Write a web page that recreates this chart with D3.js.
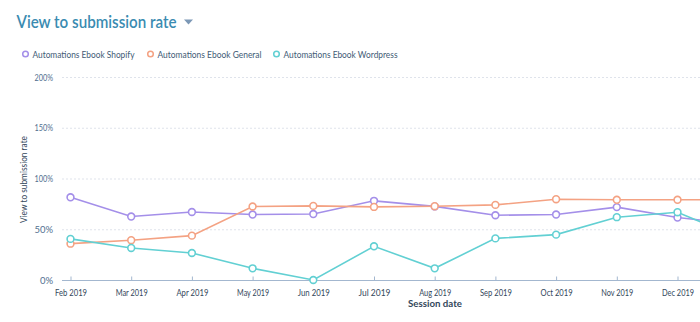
<!DOCTYPE html>
<html>
<head>
<meta charset="utf-8">
<script src="https://cdn.jsdelivr.net/npm/d3@7"></script>
<style>
  html, body { margin: 0; padding: 0; background: #fff; }
  svg { display: block; font-family: Lato, "Open Sans", sans-serif; }
</style>
</head>
<body>
<svg id="chart" width="700" height="322"></svg>
<script>
// Months on the x axis (the last one runs past the right edge)
const months = ["Feb 2019", "Mar 2019", "Apr 2019", "May 2019", "Jun 2019", "Jul 2019",
                "Aug 2019", "Sep 2019", "Oct 2019", "Nov 2019", "Dec 2019", "Jan 2020"];

// View-to-submission rate per month, in percent
const shopify   = [81.5, 62.5, 67, 64.5, 65, 78, 72.5, 63.8, 64.5, 71.8, 61.5, 55];
const general   = [35.8, 39.2, 43.7, 72.4, 73, 72, 72.7, 74, 79.6, 79, 79, 79];
const wordpress = [40.5, 31.6, 26.6, 11.5, 0, 33.2, 11.5, 41, 44.7, 61.9, 66.8, 42];

const seriesNames = ["Automations Ebook Shopify", "Automations Ebook General", "Automations Ebook Wordpress"];
const seriesColors = ["#a48fe9", "#f4a283", "#62d0d3"];
const yTicks = [0, 50, 100, 150, 200];

const svg = d3.select("#chart");
const W = 700;
const plotLeft = 62, plotRight = 700, plotTop = 77, plotBottom = 280;

const x = d3.scalePoint().domain(months).range([70.5, 70.5 + 60.7 * 11]);
const y = d3.scaleLinear().domain([0, 200]).range([plotBottom, plotTop]);

// Squeeze a text horizontally so it spans at most the given width (keeps font height)
function squeeze(sel, width) {
  sel.each(function () {
    const w = this.getComputedTextLength();
    if (w > width) d3.select(this).attr("textLength", width).attr("lengthAdjust", "spacingAndGlyphs");
  });
  return sel;
}

// Title with dropdown caret
const title = svg.append("text")
  .attr("x", 16.5).attr("y", 28)
  .attr("fill", "#3a8bb1")
  .attr("font-size", 16.5)
  .attr("font-weight", 600)
  .text("View to submission rate");
squeeze(title, 160);
svg.append("path")
  .attr("d", "M184,19.5 L193,19.5 L188.5,24.5 Z")
  .attr("fill", "#7c98b6");

// Legend
const legendX = [25.5, 150.5, 276.5];
const legendW = [102, 104, 114];
const legend = svg.append("g");
seriesNames.forEach((name, i) => {
  const g = legend.append("g").attr("transform", `translate(${legendX[i]},54)`);
  g.append("circle").attr("r", 2.8).attr("fill", "#fff")
    .attr("stroke", seriesColors[i]).attr("stroke-width", 1.5);
  const t = g.append("text").attr("x", 7).attr("y", 3.6)
    .attr("font-size", 10.2).attr("fill", "#425b76").text(name);
  squeeze(t, legendW[i]);
});

// Horizontal grid
svg.append("g").selectAll("line")
  .data(yTicks.filter(d => d > 0))
  .join("line")
  .attr("x1", plotLeft).attr("x2", plotRight)
  .attr("y1", d => y(d) + 0.5).attr("y2", d => y(d) + 0.5)
  .attr("stroke", "#dfe3eb").attr("stroke-dasharray", "2,2");

// Y axis labels
const yAxis = svg.append("g")
  .attr("transform", `translate(${plotLeft},0)`)
  .call(d3.axisLeft(y).tickValues(yTicks).tickFormat(d => d + "%").tickSize(0).tickPadding(9));
yAxis.select(".domain").remove();
yAxis.selectAll("text").attr("font-size", 9.5).attr("fill", "#516f90")
  .attr("font-family", "Lato, sans-serif");
squeeze(yAxis.selectAll("text"), 18.5);

const yTitle = svg.append("text")
  .attr("transform", `translate(27,${(plotTop + plotBottom) / 2 + 1}) rotate(-90)`)
  .attr("text-anchor", "middle")
  .attr("font-size", 9.5).attr("fill", "#33475b")
  .text("View to submission rate");
squeeze(yTitle, 87);

// X axis
const visibleMonths = months.filter(m => x(m) < W - 20);
const xAxis = svg.append("g")
  .attr("transform", `translate(0,${plotBottom + 0.5})`)
  .call(d3.axisBottom(x).tickValues(visibleMonths).tickSize(-4).tickPadding(9).tickSizeOuter(0));
xAxis.select(".domain").attr("d", `M${plotLeft},0H${plotRight}`)
  .attr("stroke", "#a3b7cf").attr("stroke-width", 1.2);
xAxis.selectAll(".tick line").attr("stroke", "#a3b7cf");
xAxis.selectAll("text").attr("font-size", 9.7).attr("fill", "#33475b")
  .attr("font-family", "Lato, sans-serif");
squeeze(xAxis.selectAll("text"), 32);

svg.append("text")
  .attr("x", 435).attr("y", 307)
  .attr("text-anchor", "middle")
  .attr("font-size", 9.7).attr("font-weight", 700).attr("fill", "#33475b")
  .text("Session date");

// Lines and markers
const line = d3.line().x((d, i) => x(months[i])).y(d => y(d));
[shopify, general, wordpress].forEach((vals, i) => {
  const g = svg.append("g");
  g.append("path").datum(vals)
    .attr("d", line).attr("fill", "none")
    .attr("stroke", seriesColors[i]).attr("stroke-width", 1.6);
  g.selectAll("circle").data(vals).join("circle")
    .attr("cx", (d, j) => x(months[j])).attr("cy", d => y(d))
    .attr("r", 3.4).attr("fill", "#fff")
    .attr("stroke", seriesColors[i]).attr("stroke-width", 1.6);
});
</script>
</body>
</html>
